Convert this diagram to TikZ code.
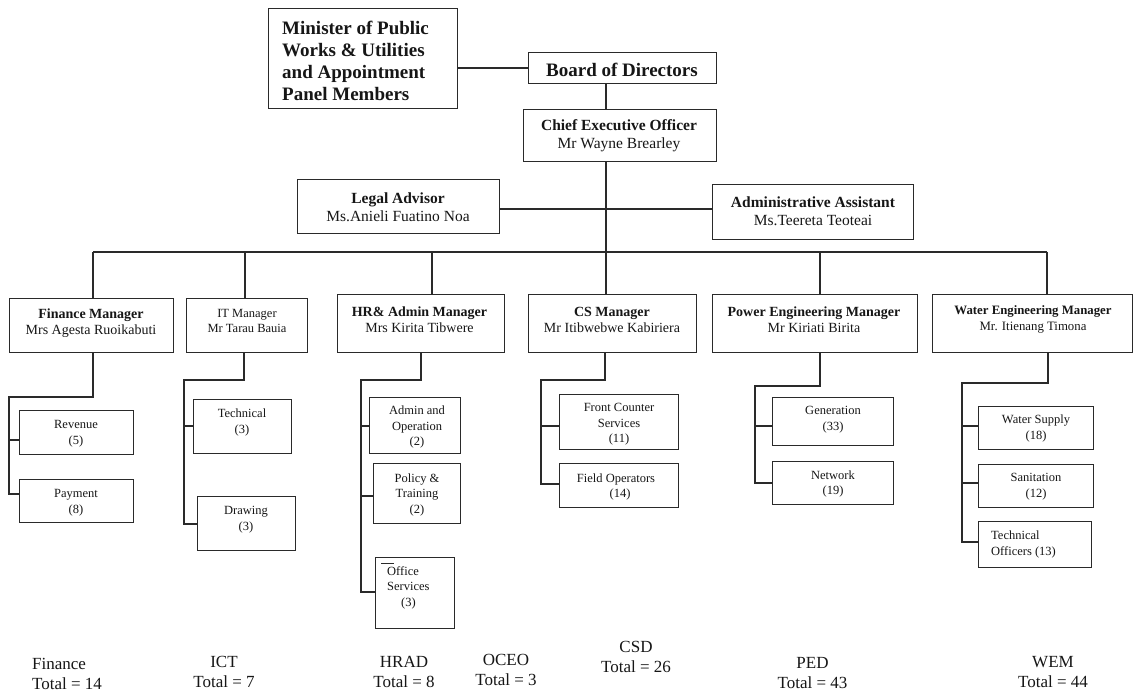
\documentclass[tikz,border=0pt]{standalone}
\usepackage{fontspec}
\setmainfont{Liberation Serif}
\usetikzlibrary{calc}

\definecolor{ink}{HTML}{161616}
\definecolor{rulecol}{HTML}{2A2A2A}

% rectangular frame from its top-left and bottom-right corners
\newcommand{\orgbox}[5]{%
  \node[orgframe, anchor=north west, minimum width={#4-#2}, minimum height={#5-#3}] (#1) at (#2,#3) {};}

\tikzset{
  orgframe/.style={draw=rulecol, line width=1.2pt, inner sep=0pt, fill=white},
  link/.style={draw=rulecol, line width=1.2pt},
  lbl/.style={text=ink, align=center, inner sep=0pt},
  inbox/.style={lbl, yshift=-1.5pt},
  bigtxt/.style={font=\fontsize{19}{22}\selectfont\bfseries},
  midtxt/.style={font=\fontsize{15.5}{17.5}\selectfont},
  mgrtxt/.style={font=\fontsize{14}{16.5}\selectfont},
  mgrsmall/.style={font=\fontsize{12.8}{16}\selectfont},
  subtxt/.style={font=\fontsize{12.5}{15.5}\selectfont},
  tottxt/.style={font=\fontsize{17}{20}\selectfont}
}

\begin{document}
\begin{tikzpicture}[x=1pt, y=-1pt]
\fill[white] (0,0) rectangle (1134,692);
\useasboundingbox (0,0) rectangle (1134,692);

% ---------- governance and executive ----------
\orgbox{min}{268}{8}{457}{108}
\orgbox{board}{528}{52}{716}{83}
\orgbox{ceo}{523}{109}{716}{161}
\orgbox{legal}{297}{179}{499}{233}
\orgbox{admin}{712}{184}{913}{239}

\node[inbox, bigtxt, align=left, anchor=west] (minT) at (282,59)
  {Minister of Public\\Works \& Utilities\\and Appointment\\Panel Members};
\node[inbox, bigtxt] (boardT) at (622,68) {Board of Directors};
\node[inbox, midtxt] (ceoT) at (619,134) {\textbf{Chief Executive Officer}\\Mr Wayne Brearley};
\node[inbox, midtxt] (legalT) at (398,205.5) {\textbf{Legal Advisor}\\Ms.Anieli Fuatino Noa};
\node[inbox, midtxt] (adminT) at (813,209.5) {\textbf{Administrative Assistant}\\Ms.Teereta Teoteai};

% ---------- managers ----------
\orgbox{fin}{9}{298}{173}{352}
\orgbox{it}{186}{298}{307}{352}
\orgbox{hr}{337}{294}{504}{352}
\orgbox{cs}{528}{294}{696}{352}
\orgbox{pow}{712}{294}{917}{352}
\orgbox{wat}{932}{294}{1132}{352}

\node[inbox, mgrtxt] (finT) at (91,321.5) {\textbf{Finance Manager}\\Mrs Agesta Ruoikabuti};
\node[inbox, subtxt] (itT) at (247,319.5) {IT Manager\\Mr Tarau Bauia};
\node[inbox, mgrtxt] (hrT) at (419.5,318) {\textbf{HR\& Admin Manager}\\Mrs Kirita Tibwere};
\node[inbox, mgrtxt] (csT) at (612,318.5) {\textbf{CS Manager}\\Mr Itibwebwe Kabiriera};
\node[inbox, mgrtxt] (powT) at (814,318) {\textbf{Power Engineering Manager}\\Mr Kiriati Birita};
\node[inbox, mgrsmall] (watT) at (1033,317.5) {\textbf{Water Engineering Manager}\\Mr. Itienang Timona};

% ---------- sections ----------
\orgbox{rev}{19}{410}{133}{454}
\orgbox{pay}{19}{479}{133}{522}
\orgbox{tech}{193}{399}{291}{453}
\orgbox{drw}{197}{496}{295}{550}
\orgbox{ao}{369}{397}{460}{453}
\orgbox{pt}{373}{463}{460}{523}
\orgbox{off}{375}{557}{454}{628}
\orgbox{fc}{559}{394}{678}{449}
\orgbox{fo}{559}{463}{678}{507}
\orgbox{gen}{772}{397}{893}{445}
\orgbox{net}{772}{461}{893}{504}
\orgbox{ws}{978}{406}{1093}{449}
\orgbox{san}{978}{464}{1093}{507}
\orgbox{tof}{978}{521}{1091}{567}

\node[inbox, subtxt] (revT) at (76,432) {Revenue\\(5)};
\node[inbox, subtxt] (payT) at (76,501) {Payment\\(8)};
\node[inbox, subtxt] (techT) at (242,421) {Technical\\(3)};
\node[inbox, subtxt] (drwT) at (246,518) {Drawing\\(3)};
\node[inbox, subtxt] (aoT) at (417,425.5) {Admin and\\Operation\\(2)};
\node[inbox, subtxt] (ptT) at (417,493) {Policy \&\\Training\\(2)};
\node[inbox, subtxt, align=left, anchor=west] (offT) at (387,586) {Office\\Services\\\hspace*{14pt}(3)};
\node[inbox, subtxt] (fcT) at (619,423) {Front Counter\\Services\\(11)};
\node[inbox, subtxt] (foT) at (616,485.5) {Field Operators\\\hspace*{8pt}(14)};
\node[inbox, subtxt] (genT) at (833,418) {Generation\\(33)};
\node[inbox, subtxt] (netT) at (833,482.5) {Network\\(19)};
\node[inbox, subtxt] (wsT) at (1036,427) {Water Supply\\(18)};
\node[inbox, subtxt] (sanT) at (1036,485) {Sanitation\\(12)};
\node[inbox, subtxt, align=left, anchor=west] (tofT) at (991,543) {Technical\\Officers (13)};

% small stroke above "Office"
\draw[link, line width=1pt] ($(off.north west)+(6,6)$) -- ++(13,0);

% ---------- upper connectors ----------
\coordinate (spine) at (606,0);
\draw[link] (board.west -| min.east) -- (board.west);
\draw[link] (board.south -| spine) -- (ceo.north -| spine);
\draw[link] (ceo.south -| spine) -- (cs.north -| spine);
\draw[link] (legal.east |- 0,209) -- (admin.west |- 0,209);

% distribution bus to managers
\coordinate (busW) at (93,252);
\coordinate (dIT) at (245,252);
\coordinate (dHR) at (432,252);
\coordinate (dPW) at (820,252);
\coordinate (busE) at (1047,252);
\draw[link] (busW) -- (busE);
\draw[link] (busW) -- (fin.north -| busW);
\draw[link] (dIT) -- (it.north -| dIT);
\draw[link] (dHR) -- (hr.north -| dHR);
\draw[link] (dPW) -- (pow.north -| dPW);
\draw[link] (busE) -- (wat.north -| busE);

% ---------- section connectors ----------
% finance
\coordinate (finJ) at (93,397); \coordinate (finS) at (9,397);
\draw[link] (fin.south -| finJ) -- (finJ) -- (finS) -- (finS |- 0,494) -- (pay.west |- 0,494);
\draw[link] (finS |- 0,440) -- (rev.west |- 0,440);
% IT
\coordinate (itJ) at (244,380); \coordinate (itS) at (184,380);
\draw[link] (it.south -| itJ) -- (itJ) -- (itS) -- (itS |- 0,524) -- (drw.west |- 0,524);
\draw[link] (itS |- 0,426) -- (tech.west |- 0,426);
% HR and admin
\coordinate (hrJ) at (421,380); \coordinate (hrS) at (361,380);
\draw[link] (hr.south -| hrJ) -- (hrJ) -- (hrS) -- (hrS |- 0,592) -- (off.west |- 0,592);
\draw[link] (hrS |- 0,426) -- (ao.west |- 0,426);
\draw[link] (hrS |- 0,496) -- (pt.west |- 0,496);
% customer services
\coordinate (csJ) at (605,380); \coordinate (csS) at (541,380);
\draw[link] (cs.south -| csJ) -- (csJ) -- (csS) -- (csS |- 0,484) -- (fo.west |- 0,484);
\draw[link] (csS |- 0,426) -- (fc.west |- 0,426);
% power engineering
\coordinate (pwJ) at (820,386); \coordinate (pwS) at (755,386);
\draw[link] (pow.south -| pwJ) -- (pwJ) -- (pwS) -- (pwS |- 0,483) -- (net.west |- 0,483);
\draw[link] (pwS |- 0,426) -- (gen.west |- 0,426);
% water engineering
\coordinate (wtJ) at (1048,383); \coordinate (wtS) at (962,383);
\draw[link] (wat.south -| wtJ) -- (wtJ) -- (wtS) -- (wtS |- 0,542) -- (tof.west |- 0,542);
\draw[link] (wtS |- 0,426) -- (ws.west |- 0,426);
\draw[link] (wtS |- 0,483) -- (san.west |- 0,483);

% ---------- staff totals ----------
\node[lbl, tottxt, align=left, anchor=west] (totFin) at (32,673.5) {Finance\\Total = 14};
\node[lbl, tottxt] (totIct) at (224,672) {ICT\\Total = 7};
\node[lbl, tottxt] (totHr) at (404,672) {HRAD\\Total = 8};
\node[lbl, tottxt] (totCeo) at (506,670) {OCEO\\Total = 3};
\node[lbl, tottxt] (totCs) at (636,657) {CSD\\Total = 26};
\node[lbl, tottxt] (totPw) at (812.5,673) {PED\\Total = 43};
\node[lbl, tottxt] (totWt) at (1053,672) {WEM\\Total = 44};
\end{tikzpicture}
\end{document}
